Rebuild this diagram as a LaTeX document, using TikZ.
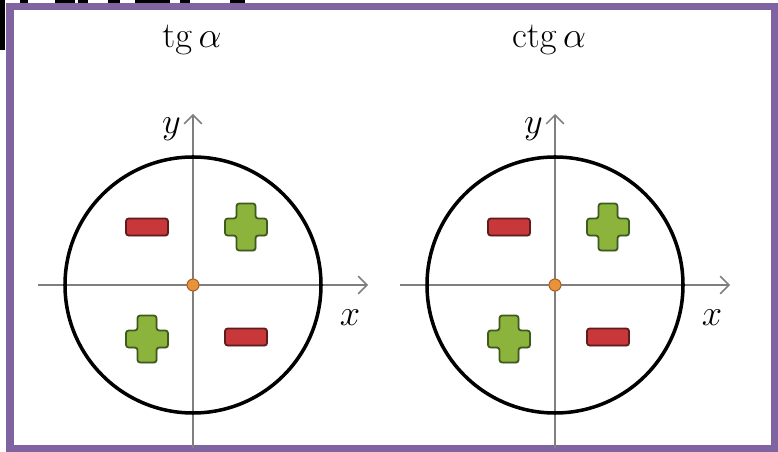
\documentclass[tikz,border=0pt]{standalone}
\usepackage{amsmath}
\usetikzlibrary{arrows.meta,shadows}
\definecolor{framepurple}{HTML}{8064A2}
\definecolor{plusgreen}{HTML}{8CB43C}
\definecolor{plusedge}{HTML}{3E5A1E}
\definecolor{minusred}{HTML}{C8373A}
\definecolor{minusedge}{HTML}{5E1C1C}
\definecolor{dotorange}{HTML}{E8923A}
\definecolor{dotedge}{HTML}{A5602A}
\definecolor{axisgray}{HTML}{7F7F7F}
\tikzset{
  axis/.style={axisgray,line width=0.9pt},
  axisarrow/.style={axis,-{Straight Barb[length=5pt,width=10pt]}},
  unitcircle/.style={black,line width=2pt},
  signshadow/.style={drop shadow={opacity=0.3,shadow xshift=0.6pt,shadow yshift=-0.6pt}},
  plusbox/.style={fill=plusgreen,draw=plusedge,line width=1pt,rounded corners=1.5pt,signshadow},
  minusbox/.style={fill=minusred,draw=minusedge,line width=1pt,rounded corners=1.5pt,signshadow},
  origindot/.style={circle,fill=dotorange,draw=dotedge,line width=0.6pt,inner sep=0pt,minimum size=0.24cm},
  pics/plusmark/.style={code={
    \draw[plusbox] (-0.19,-0.47) -- (0.19,-0.47) -- (0.19,-0.17) -- (0.42,-0.17)
      -- (0.42,0.17) -- (0.19,0.17) -- (0.19,0.47) -- (-0.19,0.47) -- (-0.19,0.17)
      -- (-0.42,0.17) -- (-0.42,-0.17) -- (-0.19,-0.17) -- cycle;}},
  pics/minusmark/.style={code={
    \draw[minusbox] (-0.42,-0.17) rectangle (0.42,0.17);}}
}

\begin{document}
\begin{tikzpicture}

    % Overall size of the picture
    \def\wmax{15.56}
    \def\hmax{9.04}
    \def\rad{2.56}    % radius of the circles
    \useasboundingbox (0,0) rectangle (\wmax,\hmax);

    % -- Cut-off heading above the frame --
    \fill[black] (0,\hmax) rectangle (0.1,8.04);
    \foreach \xa/\xb in {0.4/0.56,1.1/1.5,1.56/1.76,2.16/2.4,2.7/3.4,3.6/3.8,4.6/4.9}
      \fill[black] (\xa,\hmax) rectangle (\xb,8.96);

    % -- Purple frame --
    \draw[framepurple,line width=4pt] (0.2,0.06) rectangle (15.5,8.91);

    % -- The two diagrams: tg on the left, ctg on the right --
    \foreach \cx/\tx/\fn/\n in {3.86/3.84/tg/L,11.10/10.98/ctg/R}{
      \coordinate (\n-o) at (\cx,3.34);
      \coordinate (\n-xl) at ([xshift=-3.1cm]\n-o);
      \coordinate (\n-xr) at ([xshift=3.5cm]\n-o);
      \coordinate (\n-yb) at ([yshift=-3.26cm]\n-o);
      \coordinate (\n-yt) at ([yshift=3.42cm]\n-o);

      % axes
      \draw[axisarrow] (\n-xl) -- (\n-xr);
      \draw[axisarrow] (\n-yb) -- (\n-yt);

      % circle
      \draw[unitcircle] (\n-o) circle [radius=\rad];

      % signs in the quadrants
      \pic at ([xshift=-0.92cm,yshift=1.16cm]\n-o) {minusmark};
      \pic at ([xshift=1.06cm,yshift=1.16cm]\n-o) {plusmark};
      \pic at ([xshift=-0.92cm,yshift=-1.08cm]\n-o) {plusmark};
      \pic at ([xshift=1.06cm,yshift=-1.04cm]\n-o) {minusmark};

      \node[origindot] (\n-dot) at (\n-o) {};

      % labels
      \node[anchor=east,font=\fontsize{21}{24}\selectfont] (\n-ylab)
        at ([xshift=-0.12cm,yshift=-0.3cm]\n-yt) {$y$};
      \node[font=\fontsize{21}{24}\selectfont] (\n-xlab)
        at ([xshift=3.14cm,yshift=-0.66cm]\n-o) {$x$};
      \node[font=\fontsize{20}{24}\selectfont] (\n-title)
        at (\tx,8.25) {$\mathrm{\fn}\,\alpha$};
    }

\end{tikzpicture}
\end{document}
